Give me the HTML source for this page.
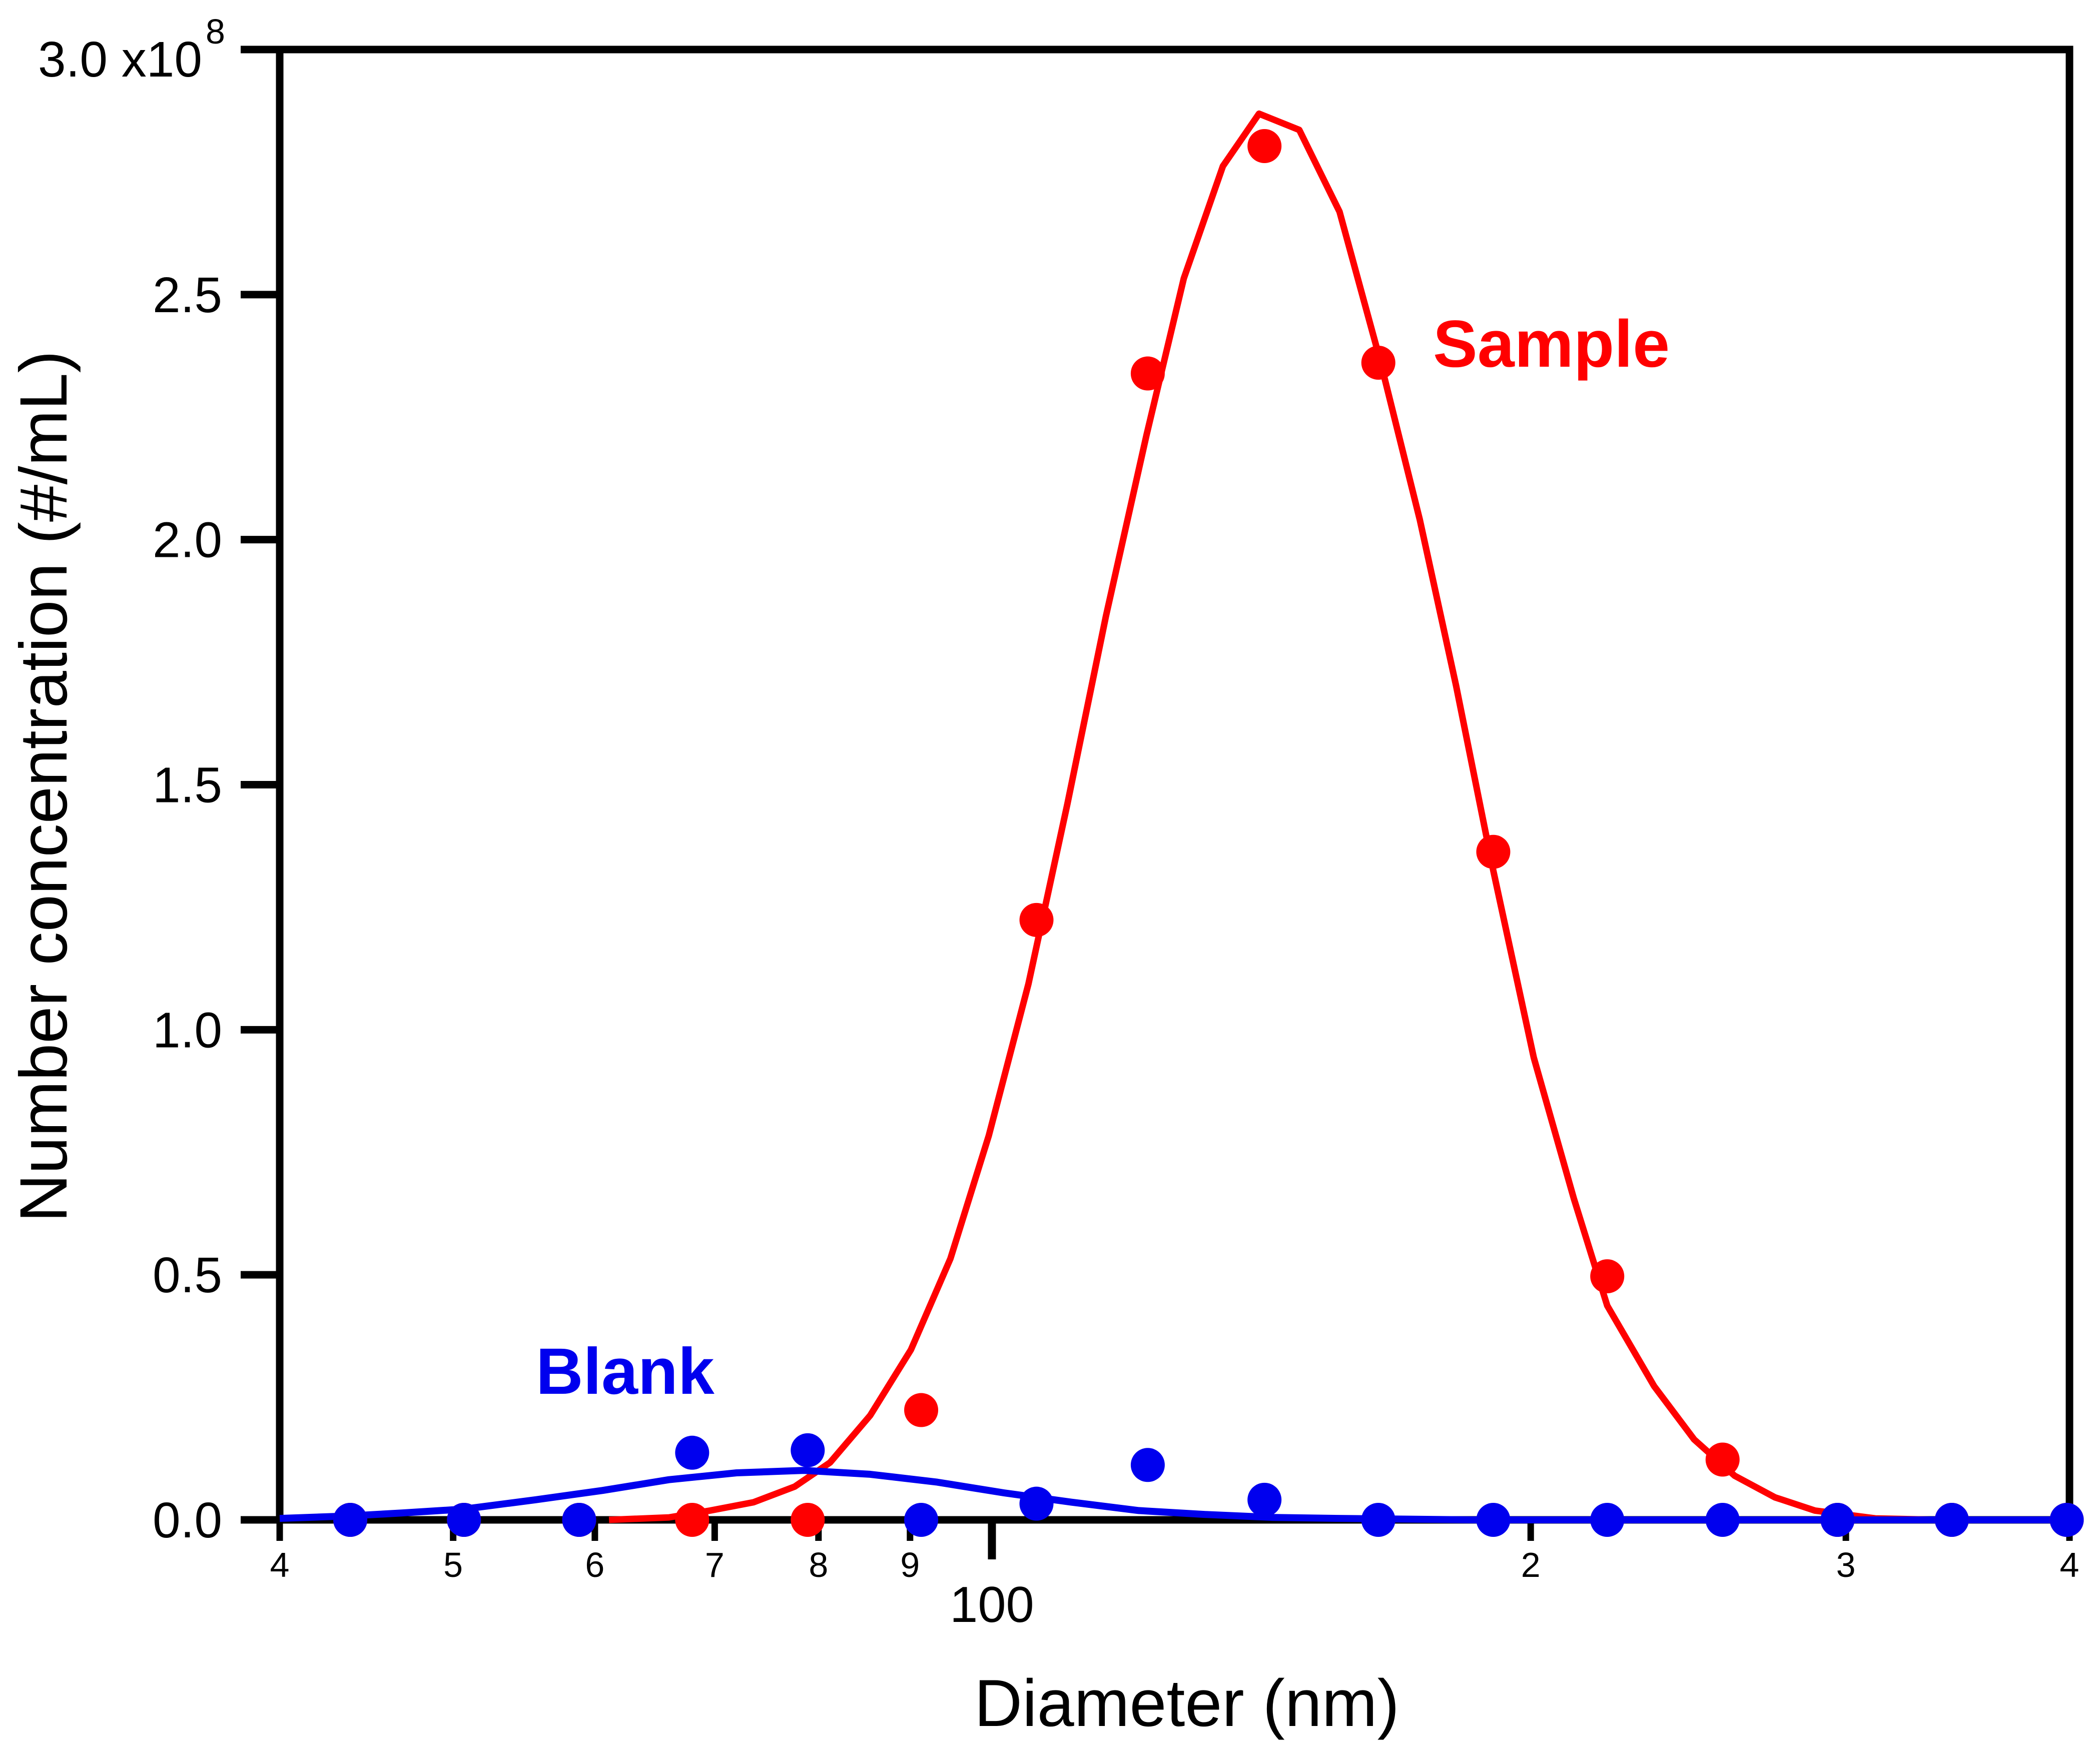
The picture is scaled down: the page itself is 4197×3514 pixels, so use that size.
<!DOCTYPE html>
<html><head><meta charset="utf-8"><style>
html,body{margin:0;padding:0;background:#fff;}
svg{display:block;font-family:"Liberation Sans",Arial,sans-serif;}
</style></head><body>
<svg id="chart" width="4197" height="3514" viewBox="0 0 4197 3514" xmlns="http://www.w3.org/2000/svg">
<g id="axes"></g>
<g id="curves"></g>
<g id="points"></g>
<text x="2864" y="733" font-size="133" font-weight="bold" fill="#ff0000">Sample</text>
<text x="1071" y="2786" font-size="131" font-weight="bold" fill="#0000ee">Blank</text>
<text x="2372" y="3450" font-size="133" text-anchor="middle">Diameter (nm)</text>
<text transform="translate(133,1572) rotate(-90)" font-size="134" text-anchor="middle">Number concentration (#/mL)</text>
</svg>
<script>
const diam = [43.8,50.7,58.8,68.0,78.9,91.3,105.9,122.2,142.0,164.4,190.6,220.7,256.0,296.8,343.8,398.6];
const sampleVals = [0,0,0,0,0,0.224,1.224,2.339,2.803,2.361,1.363,0.497,0.123,0,0,0];
const blankVals = [0,0,0,0.137,0.142,0,0.033,0.112,0.041,0,0,0,0,0,0,0];
const sampleFitD = [61.1,66.0,69.6,73.6,77.6,81.2,85.5,90.1,94.8,99.6,104.8,110.2,115.8,122.0,128.0,134.6,141.0,148.5,156.4,164.7,173.4,181.7,190.6,200.8,211.4,220.7,234.4,246.8,260.0,273.8,288.3,311.6,339.6];
const sampleFitV = [0,0.005,0.019,0.036,0.068,0.117,0.213,0.347,0.533,0.784,1.093,1.461,1.844,2.213,2.533,2.762,2.869,2.836,2.669,2.369,2.041,1.702,1.325,0.943,0.656,0.437,0.273,0.164,0.090,0.046,0.019,0.003,0];
const blankFitD = [40,43.7,46.8,50.7,55.6,60.6,66.0,72.0,78.5,85.5,93.2,101.6,110.8,120.8,131.6,143.4,156.4,185.8,400];
const blankFitV = [0.003,0.008,0.014,0.022,0.041,0.060,0.082,0.096,0.101,0.093,0.077,0.055,0.036,0.019,0.011,0.005,0.003,0,0];
const yTicks = [0,0.5,1.0,1.5,2.0,2.5,3.0];
const yTickLabels = ["0.0","0.5","1.0","1.5","2.0","2.5","3.0"];
const xMinor = [40,50,60,70,80,90,200,300,400];
const xMinorLabels = ["4","5","6","7","8","9","2","3","4"];

const L=559,R=4136,T=99,B=3038;
const xS=d=>L+(Math.log10(d)-Math.log10(40))/(Math.log10(400)-Math.log10(40))*(R-L);
const yS=v=>B-v/3.0*(B-T);
const NS="http://www.w3.org/2000/svg";
function mk(tag,attrs,parent){const e=document.createElementNS(NS,tag);for(const k in attrs)e.setAttribute(k,attrs[k]);parent.appendChild(e);return e;}
const ax=document.getElementById('axes');
let frame=mk('rect',{x:L,y:T,width:R-L,height:B-T,fill:'none',stroke:'#000','stroke-width':15},ax);


yTicks.forEach((v,i)=>{
  const y=yS(v);
  const t=mk('line',{x1:L-78,x2:L,y1:y,y2:y,stroke:'#000','stroke-width':15},ax);
  
  
  if(v===3.0){
    const lb=mk('text',{x:404,y:153,'font-size':100,'text-anchor':'end'},ax);
    
    
    lb.textContent=yTickLabels[i]+' x10';
    const ex=mk('text',{x:411,y:87,'font-size':70},ax);
    
    
    ex.textContent='8';
  } else {
    const lb=mk('text',{x:L-115,y:y+35,'font-size':100,'text-anchor':'end'},ax);
    
    
    lb.textContent=yTickLabels[i];
  }
});
xMinor.forEach((d,i)=>{
  const x=xS(d);
  const t=mk('line',{x1:x,x2:x,y1:B,y2:B+42,stroke:'#000','stroke-width':13},ax);
  
  
  const lb=mk('text',{x:x,y:3152,'font-size':70,'text-anchor':'middle'},ax);
  
  
  lb.textContent=xMinorLabels[i];
});
{const x=xS(100);
 const t=mk('line',{x1:x,x2:x,y1:B,y2:B+79,stroke:'#000','stroke-width':16},ax);
 
 
 const lb=mk('text',{x:x,y:3242,'font-size':101,'text-anchor':'middle'},ax);
 
 
 lb.textContent='100';}
const cv=document.getElementById('curves');
const pts=(D,V)=>D.map((d,i)=>xS(d).toFixed(1)+','+yS(V[i]).toFixed(1)).join(' ');
const rc=mk('polyline',{points:pts(sampleFitD,sampleFitV),fill:'none',stroke:'#ff0000','stroke-width':13,'stroke-linejoin':'round'},cv);


const bc=mk('polyline',{points:pts(blankFitD,blankFitV),fill:'none',stroke:'#0000ee','stroke-width':14,'stroke-linejoin':'round'},cv);


const pg=document.getElementById('points');
diam.forEach((d,i)=>{
  const c=mk('circle',{cx:xS(d),cy:yS(sampleVals[i]),r:34,fill:'#ff0000'},pg);
  
  
});
diam.forEach((d,i)=>{
  const c=mk('circle',{cx:xS(d),cy:yS(blankVals[i]),r:34,fill:'#0000ee'},pg);
  
  
});
</script>
</body></html>
